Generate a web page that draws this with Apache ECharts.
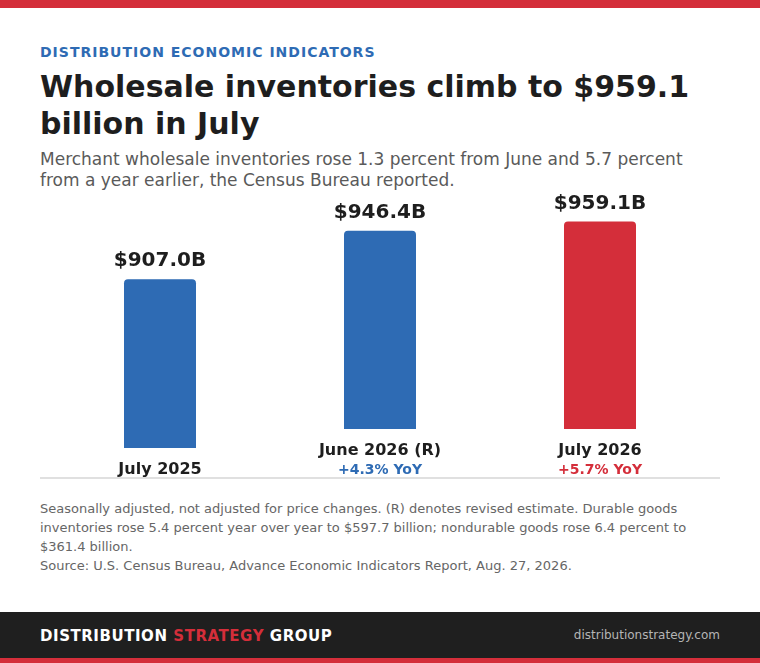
<!DOCTYPE html>
<html>
<head>
<meta charset="utf-8">
<script src="https://cdn.jsdelivr.net/npm/echarts@6/dist/echarts.min.js"></script>
<style>
  html, body { margin: 0; padding: 0; background: #fff; width: 760px; height: 663px; overflow: hidden; font-family: "DejaVu Sans", sans-serif; }
  .topbar { position: absolute; left: 0; top: 0; width: 760px; height: 8px; background: #d42e3a; }
  .kicker { position: absolute; left: 40px; top: 44px; font-size: 14px; font-weight: bold; letter-spacing: 1px; color: #2e6bb4; }
  .title { position: absolute; left: 40px; top: 68px; width: 690px; font-size: 30px; font-weight: bold; line-height: 37px; color: #1e1e1e; }
  .sub { position: absolute; left: 40px; top: 149px; width: 680px; font-size: 17px; line-height: 21px; color: #5a5a5a; }
  #main { position: absolute; left: 40px; top: 180px; width: 680px; height: 300px; }
  .rule { position: absolute; left: 40px; top: 477px; width: 680px; height: 2px; background: #e0e0e0; }
  .note { position: absolute; left: 40px; top: 499px; width: 680px; font-size: 13px; line-height: 19px; color: #666; }
  .footer { position: absolute; left: 0; top: 612px; width: 760px; height: 46px; background: #1f1f1f; }
  .brand { position: absolute; left: 40px; top: 15px; font-size: 15px; font-weight: bold; color: #fff; letter-spacing: 0.55px; }
  .brand span { color: #d42e3a; }
  .site { position: absolute; right: 40px; top: 16px; font-size: 12px; color: #b5b5b5; }
  .botbar { position: absolute; left: 0; top: 658px; width: 760px; height: 5px; background: #d42e3a; }
</style>
</head>
<body>
<div class="topbar"></div>
<div class="kicker">DISTRIBUTION ECONOMIC INDICATORS</div>
<div class="title">Wholesale inventories climb to $959.1 billion in July</div>
<div class="sub">Merchant wholesale inventories rose 1.3 percent from June and 5.7 percent from a year earlier, the Census Bureau reported.</div>
<div id="main"></div>
<div class="rule"></div>
<div class="note">Seasonally adjusted, not adjusted for price changes. (R) denotes revised estimate. Durable goods inventories rose 5.4 percent year over year to $597.7 billion; nondurable goods rose 6.4 percent to $361.4 billion.<br>Source: U.S. Census Bureau, Advance Economic Indicators Report, Aug. 27, 2026.</div>
<div class="footer">
  <div class="brand">DISTRIBUTION <span>STRATEGY</span> GROUP</div>
  <div class="site">distributionstrategy.com</div>
</div>
<div class="botbar"></div>

<script>
// data
var categories = ['July 2025', 'June 2026 (R)', 'July 2026'];
var values = [907.0, 946.4, 959.1];
var yoyLabels = ['', '+4.3% YoY', '+5.7% YoY'];

var myChart = echarts.init(document.getElementById('main'));

// each column sits in its own grid, columns with a YoY line sit higher
var colours = ['#2e6bb4', '#2e6bb4', '#d42e3a'];
var centres = [120, 340, 560];
var barW = 72;
var gridH = 238;
var yMin = 680, yMax = 1000;

var grids = [], xAxes = [], yAxes = [], series = [];
for (var i = 0; i < categories.length; i++) {
  var bottom = yoyLabels[i] ? 51 : 32;
  grids.push({ left: centres[i] - barW / 2, width: barW, bottom: bottom, height: gridH });
  xAxes.push({
    type: 'category',
    gridIndex: i,
    data: [categories[i]],
    axisLine: { show: false },
    axisTick: { show: false },
    axisLabel: {
      margin: 12,
      interval: 0,
      formatter: (function (idx) {
        return function (v) {
          return yoyLabels[idx] ? '{a|' + v + '}\n{b' + idx + '|' + yoyLabels[idx] + '}' : '{a|' + v + '}';
        };
      })(i),
      rich: {
        a: { fontFamily: 'DejaVu Sans', fontSize: 16, fontWeight: 'bold', color: '#1e1e1e', lineHeight: 20 },
        b1: { fontFamily: 'DejaVu Sans', fontSize: 14, fontWeight: 'bold', color: '#2e6bb4', lineHeight: 18 },
        b2: { fontFamily: 'DejaVu Sans', fontSize: 14, fontWeight: 'bold', color: '#d42e3a', lineHeight: 18 }
      }
    }
  });
  yAxes.push({ type: 'value', gridIndex: i, min: yMin, max: yMax, show: false, splitLine: { show: false } });
  series.push({
    type: 'bar',
    xAxisIndex: i,
    yAxisIndex: i,
    data: [values[i]],
    barWidth: barW,
    itemStyle: { color: colours[i], borderRadius: [4, 4, 0, 0] },
    label: {
      show: true,
      position: 'top',
      distance: 8,
      fontFamily: 'DejaVu Sans',
      fontSize: 20,
      fontWeight: 'bold',
      color: '#1e1e1e',
      formatter: function (p) { return '$' + p.value.toFixed(1) + 'B'; }
    },
    silent: true,
    animation: false
  });
}

myChart.setOption({
  animation: false,
  grid: grids,
  xAxis: xAxes,
  yAxis: yAxes,
  series: series
});
</script>
</body>
</html>
